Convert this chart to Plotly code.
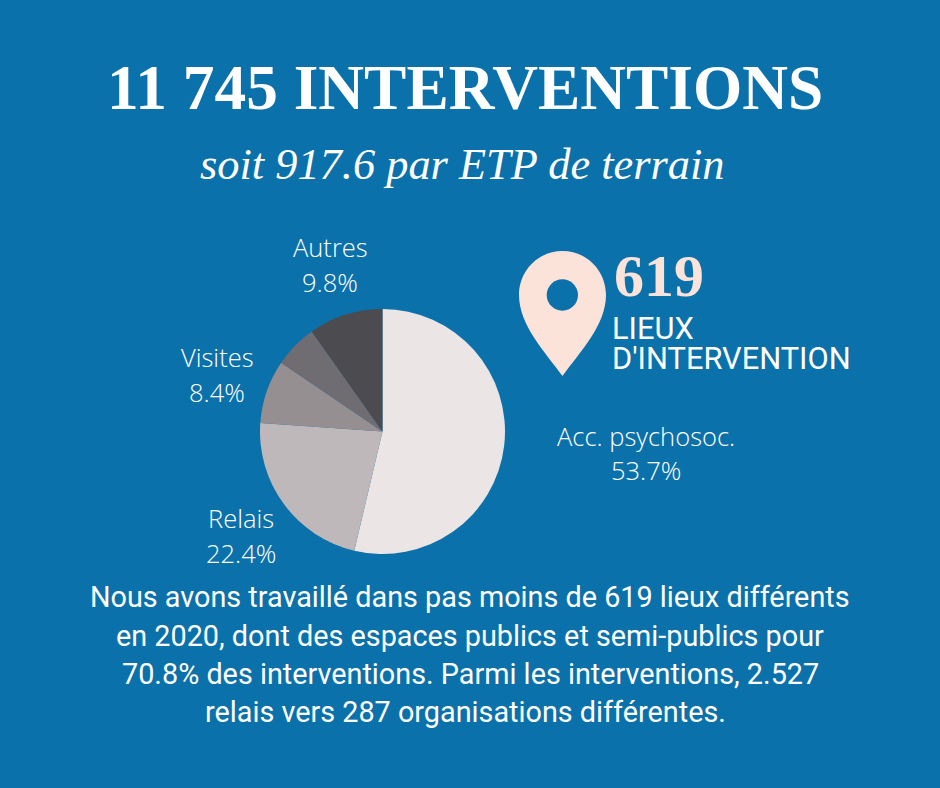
import plotly.graph_objects as go

categories = ["Acc. psychosoc.", "Relais", "Visites", "Divers", "Autres"]
values = [53.7, 22.4, 8.4, 5.7, 9.8]
colors = ["#ebe5e6", "#bfb8bb", "#958f92", "#706d72", "#4c4b50"]

title = "11 745 INTERVENTIONS"
subtitle = "soit 917.6 par ETP de terrain"
body = ["Nous avons travaillé dans pas moins de 619 lieux différents",
        "en 2020, dont des espaces publics et semi-publics pour",
        "70.8% des interventions. Parmi les interventions, 2.527",
        "relais vers 287 organisations différentes."]
W, H = 940, 788
BG = "#0b71aa"
PEACH = "#fbe3da"

fig = go.Figure(go.Pie(
    labels=categories, values=values, sort=False, direction="clockwise", rotation=0,
    marker=dict(colors=colors, line=dict(width=0)), textinfo="none", hoverinfo="label+percent",
    domain=dict(x=[260/W, 505/W], y=[1-554/H, 1-309/H]), showlegend=False))

def note(x, y, text, size, color="white", font="Roboto", weight=None, xanchor="center", height=None):
    f = dict(size=size, color=color, family=font)
    if weight:
        f["weight"] = weight
    fig.add_annotation(x=x/W, y=1-y/H, xref="paper", yref="paper", text=text, showarrow=False,
                       font=f, xanchor=xanchor, yanchor="middle", height=height)

note(465, 88, f"<b>{title}</b>", 63.4, font="Liberation Serif")
note(462, 164, f"<i>{subtitle}</i>", 44.4, font="Liberation Serif")
for x, y1, y2, a, b in [(330, 247, 282, "Autres", "9.8%"), (217, 357, 392, "Visites", "8.4%"),
                        (241, 518, 553, "Relais", "22.4%"), (646, 436, 470, "Acc. psychosoc.", "53.7%")]:
    note(x, y1, a, 25.5, font="Open Sans", weight=300)
    note(x, y2, b, 25.5, font="Open Sans", weight=300)
for x, y, t in zip([470, 470, 470, 465.5], [597, 636, 674, 712], body):
    note(x, y, t, 28.8)
note(612, 276, "<b>619</b>", 60, color=PEACH, font="Liberation Serif", xanchor="left")
note(610, 328, "LIEUX", 30.8, xanchor="left", height=29)
note(610, 358, "D'INTERVENTION", 30.8, xanchor="left", height=29)

def path_paper(cmds):
    out = []
    for c in cmds:
        if isinstance(c, str):
            out.append(c)
        else:
            out.append(f"{c[0]/W:.5f},{1-c[1]/H:.5f}")
    return " ".join(out)

# Location pin
fig.add_shape(type="path", xref="paper", yref="paper", line_width=0, fillcolor=PEACH,
              path=path_paper(["M", (562.5, 376), "C", (545, 352), (519, 325), (519, 295),
                               "C", (519, 270), (539, 251), (562.5, 251),
                               "C", (586, 251), (606, 270), (606, 295),
                               "C", (606, 325), (580, 352), (562.5, 376), "Z"]))
fig.add_shape(type="circle", xref="paper", yref="paper", line_width=0, fillcolor=BG,
              x0=546.7/W, x1=578/W, y0=1-310.7/H, y1=1-279.3/H)

fig.update_layout(width=W, height=H, margin=dict(l=0, r=0, t=0, b=0),
                  paper_bgcolor=BG, plot_bgcolor=BG)
fig.write_html("out.html", config={"displayModeBar": False},
               post_script=f"document.body.style.margin='0';document.body.style.background='{BG}';"
                           "document.documentElement.style.overflow='hidden';")
